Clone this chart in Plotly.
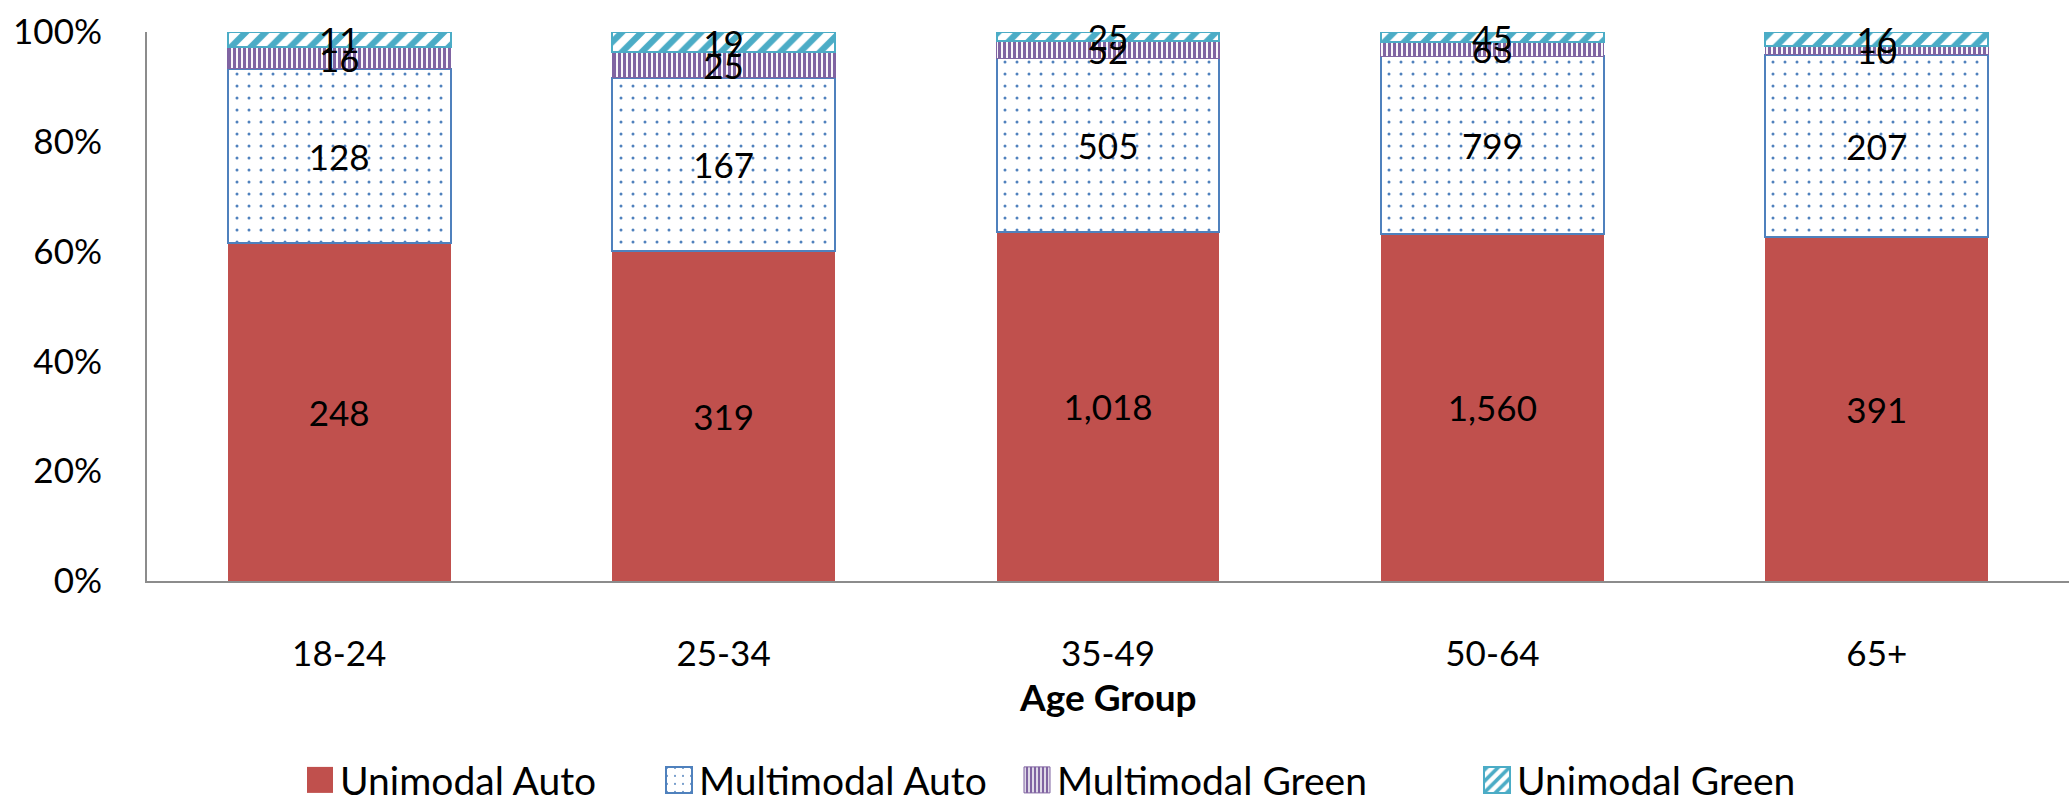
import plotly.graph_objects as go

# Trip counts by age group and travel mode
categories = ["18-24", "25-34", "35-49", "50-64", "65+"]
unimodal_auto = [248, 319, 1018, 1560, 391]
multimodal_auto = [128, 167, 505, 799, 207]
multimodal_green = [16, 25, 52, 63, 10]
unimodal_green = [11, 19, 25, 45, 16]

y_ticks = [0, 0.2, 0.4, 0.6, 0.8, 1.0]

FONT = "Lato, Calibri, sans-serif"
FS = 35

series = [
    dict(name="Unimodal Auto", values=unimodal_auto, color="#C0504D",
         line="#C0504D", lw=0, pattern=None, legend="legend"),
    dict(name="Multimodal Auto", values=multimodal_auto, color="white",
         line="#4F81BD", lw=2,
         pattern=dict(shape=".", fgcolor="#4F81BD", bgcolor="white",
                      fgopacity=1, size=12, solidity=0.05, fillmode="overlay"),
         legend="legend2"),
    dict(name="Multimodal Green", values=multimodal_green, color="white",
         line="#8064A2", lw=1,
         pattern=dict(shape="|", fgcolor="#8064A2", bgcolor="white",
                      fgopacity=1, size=5, solidity=0.62, fillmode="overlay"),
         legend="legend3"),
    dict(name="Unimodal Green", values=unimodal_green, color="white",
         line="#4BACC6", lw=2,
         pattern=dict(shape="/", fgcolor="#4BACC6", bgcolor="white",
                      fgopacity=1, size=14, solidity=0.45, fillmode="overlay"),
         legend="legend4"),
]

fig = go.Figure()
for s in series:
    marker = dict(color=s["color"], line=dict(color=s["line"], width=s["lw"]))
    if s["pattern"]:
        marker["pattern"] = s["pattern"]
    fig.add_trace(go.Bar(
        name=s["name"],
        x=categories,
        y=s["values"],
        text=[f"{v:,}" for v in s["values"]],
        texttemplate="%{text}",
        textposition="inside",
        insidetextanchor="middle",
        constraintext="none",
        textangle=0,
        insidetextfont=dict(family=FONT, size=FS, color="black"),
        marker=marker,
        cliponaxis=False,
        legend=s["legend"],
        hoverinfo="skip",
    ))

legend_common = dict(
    orientation="h", xref="container", yref="container",
    xanchor="left", yanchor="middle", y=0.031,
    font=dict(family=FONT, size=39, color="black"),
    bgcolor="rgba(0,0,0,0)", borderwidth=0,
)

fig.update_layout(
    width=2069, height=805,
    margin=dict(l=147, r=0, t=32, b=224),
    paper_bgcolor="white", plot_bgcolor="white",
    barmode="stack", barnorm="fraction", bargap=0.42,
    font=dict(family=FONT, size=FS, color="black"),
    showlegend=True,
    legend=dict(x=300 / 2069, **legend_common),
    legend2=dict(x=659 / 2069, **legend_common),
    legend3=dict(x=1017 / 2069, **legend_common),
    legend4=dict(x=1477 / 2069, **legend_common),
    xaxis=dict(
        showline=True, linecolor="#8C8C8C", linewidth=2,
        showgrid=False, zeroline=False, ticks="",
        ticklabelstandoff=41,
        tickfont=dict(family=FONT, size=FS, color="black"),
        automargin=False,
    ),
    yaxis=dict(
        range=[0, 1], tickvals=y_ticks, tickformat=".0%",
        showline=True, linecolor="#8C8C8C", linewidth=2,
        showgrid=False, zeroline=False, ticks="",
        ticklabelstandoff=36,
        tickfont=dict(family=FONT, size=FS, color="black"),
        automargin=False,
    ),
    annotations=[dict(
        text="<b>Age Group</b>", xref="paper", yref="paper",
        x=0.5, y=-0.211, xanchor="center", yanchor="middle",
        showarrow=False, font=dict(family=FONT, size=37, color="black"),
    )],
)

# Enlarge the legend swatches to match the label size
post = """
var gd = document.getElementById('{plot_id}');
gd.querySelectorAll('.legendpoints path').forEach(function(p){
    p.setAttribute('d', 'M13,13H-13V-13H13Z');
});
"""

fig.write_html("out.html", post_script=post)
